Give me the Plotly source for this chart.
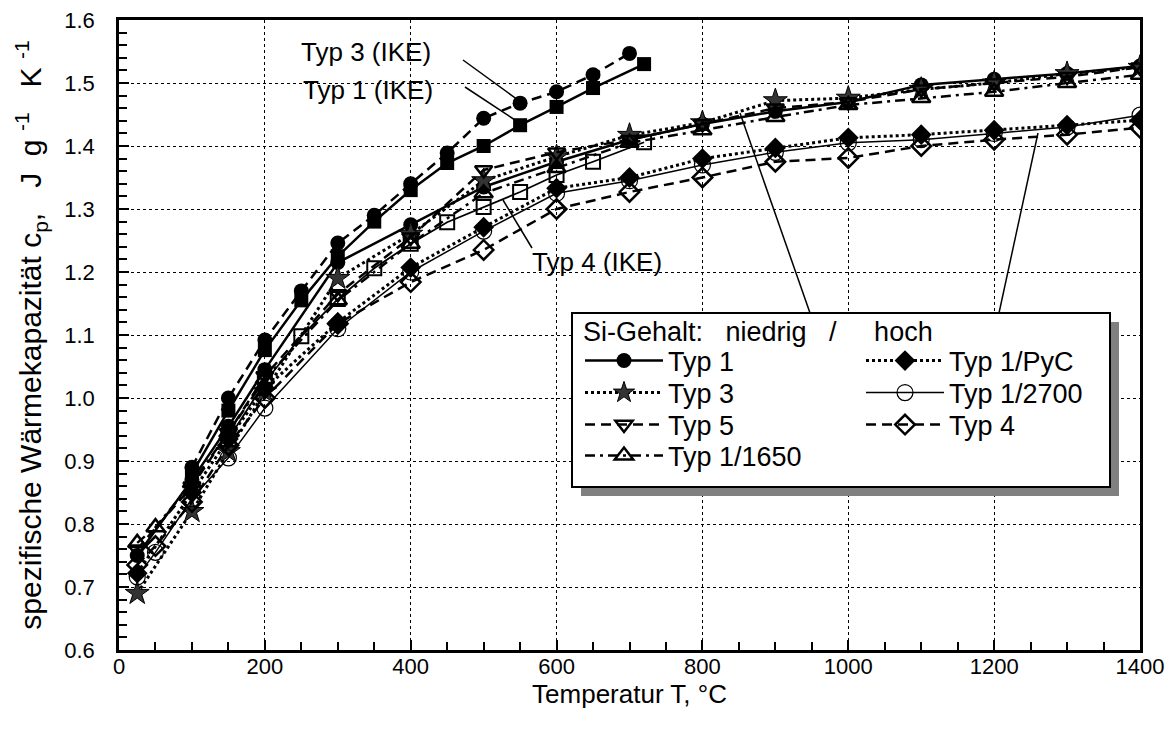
import plotly.graph_objects as go

# ---------------- data ----------------
T_main = [25, 100, 150, 200, 300, 400, 500, 600, 700, 800, 900, 1000, 1100, 1200, 1300, 1400]
T_main50 = [25, 50, 100, 150, 200, 300, 400, 500, 600, 700, 800, 900, 1000, 1100, 1200, 1300, 1400]

typ1 = [0.75, 0.87, 0.955, 1.045, 1.215, 1.275, 1.335, 1.375, 1.41, 1.435, 1.455, 1.47, 1.497, 1.506, 1.515, 1.527]
typ3 = [0.69, 0.82, 0.915, 1.01, 1.19, 1.26, 1.345, 1.383, 1.417, 1.437, 1.472, 1.476, 1.49, 1.50, 1.515, 1.525]
typ5 = [0.76, 0.86, 0.945, 1.035, 1.165, 1.255, 1.362, 1.39, 1.41, 1.435, 1.46, 1.47, 1.49, 1.50, 1.51, 1.525]
typ1_1650 = [0.77, 0.795, 0.865, 0.945, 1.03, 1.155, 1.245, 1.325, 1.365, 1.405, 1.425, 1.446, 1.465, 1.476, 1.486, 1.50, 1.513]
typ1_pyc = [0.722, 0.85, 0.935, 1.015, 1.12, 1.207, 1.271, 1.333, 1.35, 1.38, 1.397, 1.413, 1.418, 1.425, 1.433, 1.441]
typ1_2700 = [0.716, 0.755, 0.84, 0.905, 0.984, 1.11, 1.20, 1.265, 1.325, 1.345, 1.37, 1.39, 1.405, 1.41, 1.42, 1.43, 1.449]
typ4 = [0.735, 0.765, 0.835, 0.925, 1.0, 1.118, 1.184, 1.235, 1.30, 1.327, 1.35, 1.375, 1.381, 1.40, 1.41, 1.418, 1.429]

T_ike3 = [100, 150, 200, 250, 300, 350, 400, 450, 500, 550, 600, 650, 700]
typ3_ike = [0.89, 1.0, 1.092, 1.17, 1.246, 1.29, 1.34, 1.389, 1.444, 1.468, 1.486, 1.513, 1.547]
T_ike1 = [100, 150, 200, 250, 300, 350, 400, 450, 500, 550, 600, 650, 720]
typ1_ike = [0.88, 0.98, 1.076, 1.155, 1.225, 1.28, 1.33, 1.373, 1.40, 1.433, 1.462, 1.492, 1.53]
T_ike4 = [150, 200, 250, 300, 350, 400, 450, 500, 550, 600, 650, 720]
typ4_ike = [0.935, 1.025, 1.098, 1.157, 1.206, 1.245, 1.279, 1.303, 1.327, 1.354, 1.375, 1.406]

FONT = "Liberation Sans, Arial, sans-serif"

# plot-area pixel helpers (plot area: x 119..1140, y 20..650)
def pxp(p):
    return (p - 119) / 1021

def pyp(p):
    return (650 - p) / 630

def px2x(p):
    return pxp(p) * 1400

def py2y(p):
    return 0.6 + pyp(p)

fig = go.Figure()

def add(x, y, name, dash, lw, symbol, msize, mcolor="black", mlw=0, legend="legend", show=True):
    fig.add_trace(go.Scatter(
        x=x, y=y, name=name, mode="lines+markers",
        line=dict(color="black", width=lw, dash=dash),
        marker=dict(symbol=symbol, size=msize, color=mcolor,
                    line=dict(color="black", width=mlw)),
        legend=legend, showlegend=show))

# IKE series (no legend)
add(T_ike3, typ3_ike, "Typ 3 (IKE)", "10px,6px", 2.5, "circle", 15, show=False)
add(T_ike1, typ1_ike, "Typ 1 (IKE)", "solid", 2.5, "square", 14, show=False)
add(T_ike4, typ4_ike, "Typ 4 (IKE)", "solid", 1.8, "square-open", 14, mlw=2, show=False)

# low Si
add(T_main, typ1, "Typ 1", "solid", 2.5, "circle", 15, legend="legend")
add(T_main, typ3, "Typ 3", "3px,3px", 3, "star", 18, mcolor="#333333", mlw=1, legend="legend2")
add(T_main, typ5, "Typ 5", "10px,6px", 2.5, "triangle-down-open", 15, mlw=2.5, legend="legend3")
add(T_main50, typ1_1650, "Typ 1/1650", "10px,5px,3px,5px", 2.5, "triangle-up-open", 16, mlw=2.5, legend="legend4")
# high Si
add(T_main, typ1_pyc, "Typ 1/PyC", "3px,3px", 3, "diamond", 16, legend="legend5")
add(T_main50, typ1_2700, "Typ 1/2700", "solid", 1.5, "circle-open", 16, mlw=1.2, legend="legend6")
add(T_main50, typ4, "Typ 4", "10px,6px", 2.5, "diamond-open", 15, mlw=2.5, legend="legend7")

# ---------------- annotations / leader lines ----------------
leaders = [((463, 60), (518, 100)), ((465, 87), (515, 120)), ((532, 248), (503, 200)),
           ((740, 113), (810, 313)), ((1038, 133), (999, 313))]
for (a, b) in leaders:
    fig.add_shape(type="line", xref="x", yref="y",
                  x0=px2x(a[0]), y0=py2y(a[1]), x1=px2x(b[0]), y1=py2y(b[1]),
                  line=dict(color="black", width=1.5), layer="above")

labels = [("Typ 3 (IKE)", 366, 52), ("Typ 1 (IKE)", 368, 90), ("Typ 4 (IKE)", 597, 262)]
for txt, px, py in labels:
    fig.add_annotation(x=px2x(px), y=py2y(py), xref="x", yref="y", text=txt,
                       showarrow=False, font=dict(size=26, color="black", family=FONT))

# legend box + shadow
bx0, bx1, by0, by1 = 572, 1110, 487, 313
fig.add_shape(type="rect", xref="paper", yref="paper",
              x0=pxp(bx0 + 9), x1=pxp(bx1 + 9), y0=pyp(by0 + 9), y1=pyp(by1 + 9),
              fillcolor="#808080", line=dict(width=0), layer="above")
fig.add_shape(type="rect", xref="paper", yref="paper",
              x0=pxp(bx0), x1=pxp(bx1), y0=pyp(by0), y1=pyp(by1),
              fillcolor="white", line=dict(color="black", width=2), layer="above")

nb = "\u00a0"
legend_title = "Si-Gehalt:" + nb * 3 + "niedrig" + nb * 3 + "/" + nb * 5 + "hoch"
fig.add_annotation(x=pxp(581), y=pyp(332), xref="paper", yref="paper", text=legend_title,
                   xanchor="left", yanchor="middle", showarrow=False,
                   font=dict(size=27, color="black", family=FONT))

axis_common = dict(
    showline=True, linecolor="black", linewidth=2.5, mirror=True,
    showgrid=True, gridcolor="black", gridwidth=1, griddash="dot",
    ticks="inside", ticklen=10, tickwidth=1.5, tickcolor="black",
    zeroline=False, automargin=False,
    tickfont=dict(size=22, color="black", family=FONT),
)

def leg(xp, yp):
    return dict(x=pxp(xp), y=pyp(yp), xanchor="left", yanchor="middle",
                bgcolor="rgba(0,0,0,0)", borderwidth=0,
                font=dict(size=27, family=FONT, color="black"),
                itemwidth=78, itemclick=False, itemdoubleclick=False)

ytitle = ("spezifische Wärmekapazität c<sub>p</sub>," + nb * 3 + "J" + nb * 2 + "g" + nb +
          "<sup>-1</sup>" + nb * 3 + "K" + nb + "<sup>-1</sup>")

fig.update_layout(
    width=1165, height=736,
    margin=dict(l=119, r=25, t=20, b=86),
    paper_bgcolor="white", plot_bgcolor="white",
    font=dict(family=FONT, color="black"),
    xaxis=dict(range=[0, 1400], dtick=200, tick0=0,
               minor=dict(dtick=50, ticks="inside", ticklen=8, tickcolor="black", showgrid=False),
               ticklabelstandoff=-5,
               title=dict(text="Temperatur T, °C", font=dict(size=26, family=FONT), standoff=2),
               **axis_common),
    yaxis=dict(range=[0.6, 1.6], dtick=0.1, tick0=0.6, tickformat=".1f",
               minor=dict(dtick=0.02, ticks="inside", ticklen=8, tickcolor="black", showgrid=False),
               ticklabelstandoff=17,
               title=dict(text=ytitle, font=dict(size=30, family=FONT), standoff=14),
               **axis_common),
    legend=leg(580, 361),
    legend2=leg(580, 393),
    legend3=leg(580, 425),
    legend4=leg(580, 456),
    legend5=leg(861, 361),
    legend6=leg(861, 393),
    legend7=leg(861, 425),
)

fig.write_html("out.html",
               post_script="document.body.style.margin='0px';document.body.style.overflow='hidden';")
